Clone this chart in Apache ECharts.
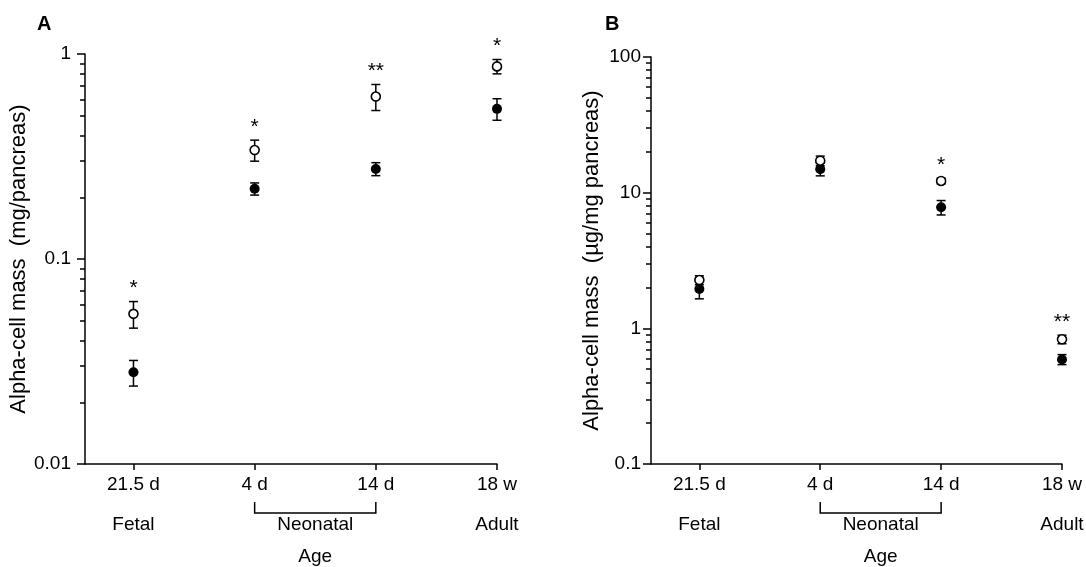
<!DOCTYPE html>
<html lang="en">
<head>
<meta charset="UTF-8">
<title>Alpha-cell mass</title>
<script src="https://cdn.jsdelivr.net/npm/echarts@6/dist/echarts.min.js"></script>
<style>html,body{margin:0;background:#fff;}</style>
</head>
<body>
<div id="chart" style="width:1086px;height:567px;"></div>
<script>
    // x positions and tick labels
    var agePos = [0, 1, 2, 3];
    var ages = ['21.5 d', '4 d', '14 d', '18 w'];
    var groups = ['Fetal', 'Neonatal', 'Adult'];
    var groupFrom = [0, 1, 3];
    var groupTo = [0, 2, 3];
    var xTitle = 'Age';

    // panel A: alpha-cell mass, mg/pancreas
    var openA = [0.054, 0.34, 0.62, 0.87];
    var openErrA = [0.008, 0.04, 0.09, 0.07];
    var fillA = [0.028, 0.22, 0.275, 0.54];
    var fillErrA = [0.004, 0.015, 0.02, 0.065];
    var starsA = ['*', '*', '**', '*'];

    // panel B: alpha-cell mass, ug/mg pancreas
    var openB = [2.27, 17.2, 12.2, 0.83];
    var openErrB = [0.17, 1.4, 0.6, 0.06];
    var fillB = [1.95, 14.9, 7.8, 0.59];
    var fillErrB = [0.3, 1.6, 0.95, 0.05];
    var starsB = ['', '', '*', '**'];

    // log axis minor ticks
    var minorA = [0.02, 0.03, 0.04, 0.05, 0.06, 0.07, 0.08, 0.09,
                  0.2, 0.3, 0.4, 0.5, 0.6, 0.7, 0.8, 0.9];
    var minorB = [0.2, 0.3, 0.4, 0.5, 0.6, 0.7, 0.8, 0.9,
                  2, 3, 4, 5, 6, 7, 8, 9,
                  20, 30, 40, 50, 60, 70, 80, 90];

    var FONT = '"Liberation Sans", Arial, Helvetica, sans-serif';
    var myChart = echarts.init(document.getElementById('chart'));

    function pts(vals) {
        return vals.map(function (v, i) { return [agePos[i], v]; });
    }
    function bars(vals, errs) {
        return vals.map(function (v, i) { return [agePos[i], v - errs[i], v + errs[i]]; });
    }

    function errorBar(stars) {
        return function (params, api) {
            var x = api.value(0);
            var lo = api.coord([x, api.value(1)]);
            var hi = api.coord([x, api.value(2)]);
            var w = 4.5;
            var st = {stroke: '#000', lineWidth: 1.5};
            var ch = [
                {type: 'line', shape: {x1: lo[0], y1: lo[1], x2: hi[0], y2: hi[1]}, style: st},
                {type: 'line', shape: {x1: lo[0] - w, y1: lo[1], x2: lo[0] + w, y2: lo[1]}, style: st},
                {type: 'line', shape: {x1: hi[0] - w, y1: hi[1], x2: hi[0] + w, y2: hi[1]}, style: st}
            ];
            if (stars && stars[params.dataIndex]) {
                ch.push({type: 'text', x: hi[0], y: hi[1] - 13, style: {
                    text: stars[params.dataIndex], fill: '#000', font: '21px ' + FONT,
                    align: 'center', verticalAlign: 'middle'}});
            }
            return {type: 'group', children: ch};
        };
    }

    // group names and bracket under the x axis
    function groupLabels(yMin) {
        return function (params, api) {
            var i = params.dataIndex;
            var a = api.coord([api.value(0), yMin]);
            var b = api.coord([api.value(1), yMin]);
            var mid = (a[0] + b[0]) / 2;
            var txt = {fill: '#000', font: '19px ' + FONT, align: 'center', verticalAlign: 'middle'};
            var ch = [];
            if (b[0] > a[0]) {
                ch.push({type: 'polyline', shape: {points: [[a[0], a[1] + 38], [a[0], a[1] + 49],
                    [b[0], b[1] + 49], [b[0], b[1] + 38]]},
                    style: {stroke: '#000', lineWidth: 1.5, fill: null}});
            }
            ch.push({type: 'text', x: mid, y: a[1] + 61, style: Object.assign({text: groups[i]}, txt)});
            if (i === 1) {
                ch.push({type: 'text', x: mid, y: a[1] + 93, style: Object.assign({text: xTitle}, txt)});
            }
            return {type: 'group', children: ch};
        };
    }
    var groupData = groups.map(function (g, i) { return [groupFrom[i], groupTo[i]]; });

    function xAxisOf(gridIndex) {
        return {
            gridIndex: gridIndex, type: 'value', min: -0.4, max: 3,
            axisLine: {onZero: false, lineStyle: {color: '#000', width: 1.5}},
            axisTick: {customValues: agePos, length: 6, lineStyle: {color: '#000', width: 1.5}},
            axisLabel: {customValues: agePos, margin: 11, color: '#000', fontSize: 19, fontFamily: FONT,
                formatter: function (v) { return ages[Math.round(v)]; }},
            splitLine: {show: false}
        };
    }
    function yAxisOf(gridIndex, min, max, name, margin) {
        return {
            gridIndex: gridIndex, type: 'log', logBase: 10, min: min, max: max, position: 'left',
            name: name, nameLocation: 'middle', nameRotate: 90, nameGap: 48,
            nameTextStyle: {color: '#000', fontSize: 22, fontFamily: FONT},
            axisLine: {show: true, onZero: false, lineStyle: {color: '#000', width: 1.5}},
            axisTick: {show: true, length: 8, lineStyle: {color: '#000', width: 1.5}},
            axisLabel: {margin: margin, color: '#000', fontSize: 19, fontFamily: FONT},
            splitLine: {show: false}
        };
    }
    function minorAxisOf(gridIndex, min, max, vals) {
        return {
            gridIndex: gridIndex, type: 'log', logBase: 10, min: min, max: max, position: 'left',
            axisLine: {show: false, onZero: false},
            axisTick: {show: true, customValues: vals, length: 5, lineStyle: {color: '#000', width: 1.5}},
            axisLabel: {show: false},
            splitLine: {show: false}
        };
    }

    function panel(xi, yi, open, openErr, fill, fillErr, stars, yMin) {
        return [
            {type: 'custom', xAxisIndex: xi, yAxisIndex: yi, renderItem: errorBar(null),
                data: bars(fill, fillErr), clip: false, z: 2},
            {type: 'custom', xAxisIndex: xi, yAxisIndex: yi, renderItem: errorBar(stars),
                data: bars(open, openErr), clip: false, z: 2},
            {type: 'scatter', xAxisIndex: xi, yAxisIndex: yi, data: pts(fill), symbolSize: 10,
                itemStyle: {color: '#000', opacity: 1}, z: 3},
            {type: 'scatter', xAxisIndex: xi, yAxisIndex: yi, data: pts(open), symbolSize: 9,
                itemStyle: {color: '#fff', borderColor: '#000', borderWidth: 1.6, opacity: 1}, z: 4},
            {type: 'custom', xAxisIndex: xi, yAxisIndex: yi, renderItem: groupLabels(yMin),
                data: groupData, clip: false, silent: true}
        ];
    }

    var option = {
        animation: false,
        backgroundColor: '#fff',
        title: [
            {text: 'A', left: 32, top: 9, textStyle: {fontSize: 20, fontWeight: 'bold', color: '#000', fontFamily: FONT}},
            {text: 'B', left: 600, top: 9, textStyle: {fontSize: 20, fontWeight: 'bold', color: '#000', fontFamily: FONT}}
        ],
        grid: [
            {left: 85, top: 54, width: 412, height: 410},
            {left: 651, top: 57, width: 411, height: 407}
        ],
        xAxis: [xAxisOf(0), xAxisOf(1)],
        yAxis: [
            yAxisOf(0, 0.01, 1, 'Alpha-cell mass  (mg/pancreas)', 14),
            minorAxisOf(0, 0.01, 1, minorA),
            yAxisOf(1, 0.1, 100, 'Alpha-cell mass  (\u00b5g/mg pancreas)', 10),
            minorAxisOf(1, 0.1, 100, minorB)
        ],
        series: panel(0, 0, openA, openErrA, fillA, fillErrA, starsA, 0.01)
            .concat(panel(1, 2, openB, openErrB, fillB, fillErrB, starsB, 0.1))
    };
    myChart.setOption(option);
</script>
</body>
</html>
